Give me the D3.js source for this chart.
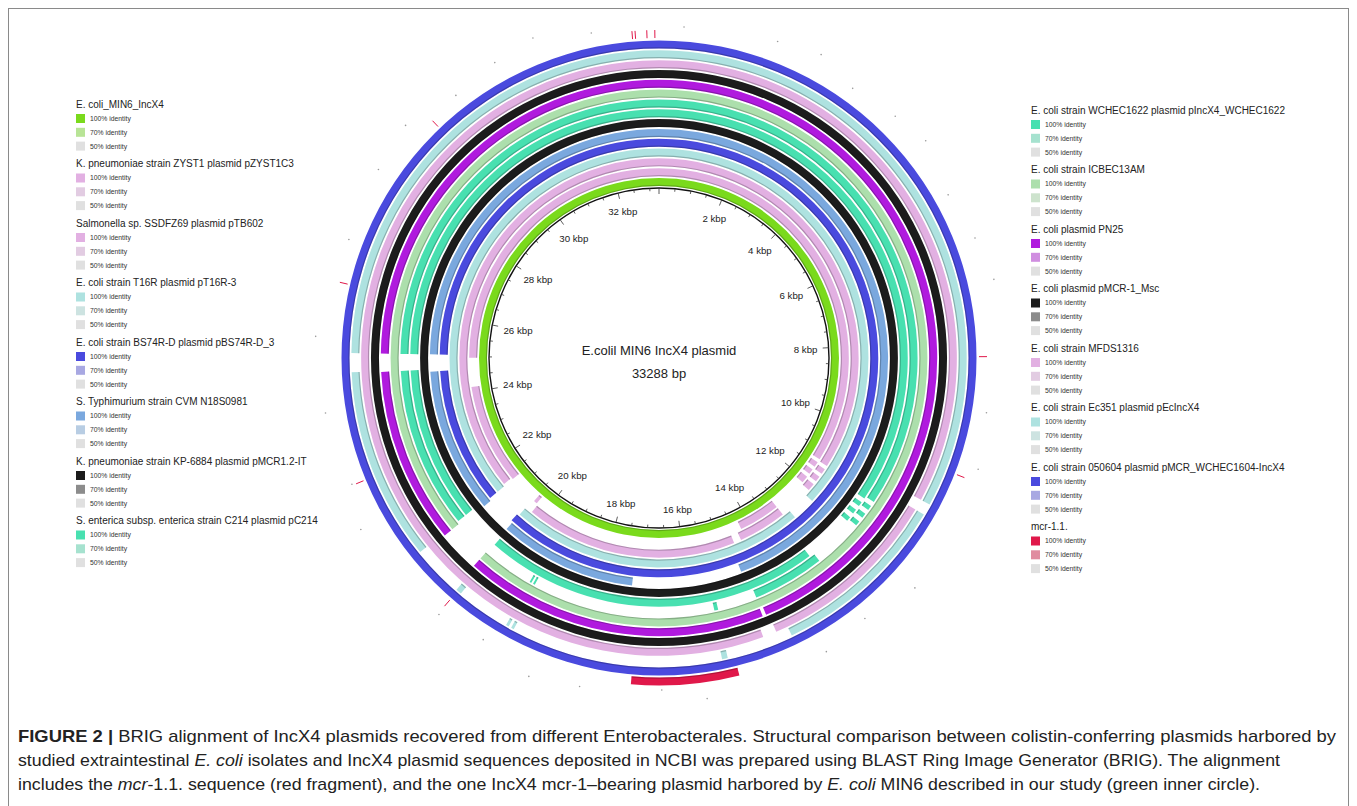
<!DOCTYPE html>
<html>
<head>
<meta charset="utf-8">
<script src="https://cdn.jsdelivr.net/npm/d3@7"></script>
<style>
  body { margin: 0; background: #fff; }
  svg { display: block; }
</style>
</head>
<body>
<div id="chart"></div>
<script>
// plasmid backbone, bp
var genomeLength = 33288;
var tickKbp = [2, 4, 6, 8, 10, 12, 14, 16, 18, 20, 22, 24, 26, 28, 30, 32];

// rings, inner to outer (same order as legend)
var ringNames = [
  'E. coli_MIN6_IncX4',
  'K. pneumoniae strain ZYST1 plasmid pZYST1C3',
  'Salmonella sp. SSDFZ69 plasmid pTB602',
  'E. coli strain T16R plasmid pT16R-3',
  'E. coli strain BS74R-D plasmid pBS74R-D_3',
  'S. Typhimurium strain CVM N18S0981',
  'K. pneumoniae strain KP-6884 plasmid pMCR1.2-IT',
  'S. enterica subsp. enterica strain C214 plasmid pC214',
  'E. coli strain WCHEC1622 plasmid pIncX4_WCHEC1622',
  'E. coli strain ICBEC13AM',
  'E. coli plasmid PN25',
  'E. coli plasmid pMCR-1_Msc',
  'E. coli strain MFDS1316',
  'E. coli strain Ec351 plasmid pEcIncX4',
  'E. coli strain 050604 plasmid pMCR_WCHEC1604-IncX4',
  'mcr-1.1.'
];
var color100 = ['#7ada1c', '#e2b0e2', '#e2b0e2', '#aee2e0', '#4a4ade', '#7aa8de', '#1c1c1c', '#48e0b0',
                '#48e0b0', '#acdfac', '#b01ade', '#1c1c1c', '#e2b0e2', '#aee2e0', '#4a4ade', '#e0184a'];
var color70 = ['#b8e496', '#e2cce2', '#e2cce2', '#cde3e1', '#a8a8e2', '#b8cde3', '#8c8c8c', '#a6e2cf',
               '#a6e2cf', '#cde3cd', '#d08ee0', '#8c8c8c', '#e2cce2', '#cde3e1', '#a8a8e2', '#e08ca0'];
var color50 = '#e0e0e0';

// aligned blocks per ring, kbp [start, end]
var ringBlocks = [
  [[0, 33.288]],
  [[0, 11.3], [11.4, 11.55], [11.65, 11.8], [11.9, 12.1], [13.1, 14.27], [20.35, 20.45], [21.3, 24.15], [24.97, 33.288]],
  [[0, 11.35], [11.45, 11.6], [11.7, 11.85], [11.95, 12.15], [13.1, 14.4], [14.6, 20.3], [21.35, 33.288]],
  [[0, 12.3], [12.9, 20.5], [21.3, 33.288]],
  [[0, 20.55], [21.3, 24.65], [25.05, 33.288]],
  [[0, 14.7], [17.27, 20.5], [21.24, 24.65], [25.05, 33.288]],
  [[0, 33.288]],
  [[0, 11.5], [11.6, 11.7], [11.8, 11.9], [12.0, 12.1], [13.2, 20.47], [21.35, 24.7], [25.05, 33.288]],
  [[0, 11.45], [11.55, 11.65], [11.75, 11.85], [11.95, 12.05], [13.1, 14.6], [15.42, 15.5], [19.3, 19.34],
   [19.38, 19.42], [21.35, 24.7], [25.05, 33.288]],
  [[0, 20.5], [21.3, 33.288]],
  [[0, 14.55], [14.62, 20.5], [21.3, 24.7], [25.05, 33.288]],
  [[0, 33.288]],
  [[0, 10.95], [11.15, 14.5], [14.75, 33.288]],
  [[0, 10.95], [11.15, 14.28], [15.45, 15.55], [19.25, 19.3], [19.35, 19.4], [20.35, 20.45], [21.35, 24.72], [25.05, 33.288]],
  [[0, 33.288]],
  [[15.33, 17.1]]
];
// short mcr-1.1 hits and faint hits outside the rings, kbp
var mcrTicks = [32.85, 32.9, 33.09, 33.22, 29.25, 26.2, 22.88, 20.42, 10.3, 8.3];
var faintHits = [0.4, 1.9, 2.6, 3.3, 4.1, 4.7, 5.6, 6.4, 7.1, 9.2, 10.1, 12.2, 13.1, 13.9, 15.9, 16.6, 17.9,
                 18.7, 19.6, 20.4, 22.2, 22.9, 24.1, 25.3, 26.9, 28.1, 28.9, 29.8, 30.6, 31.3, 32.2];

var W = 1357, H = 806;
var cx = 659, cy = 358;
var svg = d3.select('#chart').append('svg')
  .attr('width', W)
  .attr('height', H)
  .style('font-family', 'Arial, "Liberation Sans", sans-serif');

svg.append('rect')
  .attr('x', 8.5).attr('y', 8.5)
  .attr('width', 1340).attr('height', 820)
  .attr('fill', 'none')
  .attr('stroke', '#8a8a8a')
  .attr('stroke-width', 1);

var angle = d3.scaleLinear().domain([0, genomeLength / 1000]).range([0, 2 * Math.PI]);
var ringInner = d3.scaleLinear().domain([0, 14]).range([172, 309.5]);
var ringWidth = 8;

var plot = svg.append('g').attr('transform', 'translate(' + cx + ',' + cy + ')');
var arc = d3.arc();

ringBlocks.forEach(function(blocks, i) {
  var r0 = i < 15 ? ringInner(i) : 319.5;
  var g = plot.append('g').attr('class', 'ring');
  g.selectAll('path.block')
    .data(blocks)
    .enter().append('path')
    .attr('class', 'block')
    .attr('d', function(d) {
      return arc({innerRadius: r0, outerRadius: r0 + ringWidth, startAngle: angle(d[0]), endAngle: angle(d[1])});
    })
    .attr('fill', color100[i]);
  // thin grey edge that BRIG draws on the inside of each block
  g.selectAll('path.edge')
    .data(blocks)
    .enter().append('path')
    .attr('class', 'edge')
    .attr('d', function(d) {
      return arc({innerRadius: r0, outerRadius: r0 + 1.2, startAngle: angle(d[0]), endAngle: angle(d[1])});
    })
    .attr('fill', '#000')
    .attr('opacity', 0.22);
});

// red mcr-1.1 hits
plot.selectAll('line.mcr')
  .data(mcrTicks)
  .enter().append('line')
  .attr('x1', function(d) { return 320 * Math.sin(angle(d)); })
  .attr('y1', function(d) { return -320 * Math.cos(angle(d)); })
  .attr('x2', function(d) { return 328 * Math.sin(angle(d)); })
  .attr('y2', function(d) { return -328 * Math.cos(angle(d)); })
  .attr('stroke', '#e0184a')
  .attr('stroke-width', 1);

plot.selectAll('circle.faint')
  .data(faintHits)
  .enter().append('circle')
  .attr('cx', function(d, i) { return (332 + (i % 3) * 6) * Math.sin(angle(d)); })
  .attr('cy', function(d, i) { return -(332 + (i % 3) * 6) * Math.cos(angle(d)); })
  .attr('r', 0.8)
  .attr('fill', '#9a9a9a');

// backbone circle with ticks
plot.append('circle')
  .attr('r', 170)
  .attr('fill', 'none')
  .attr('stroke', '#111')
  .attr('stroke-width', 1.4);

var minor = d3.range(0, genomeLength / 1000, 0.5);
plot.selectAll('line.tick')
  .data(minor)
  .enter().append('line')
  .attr('x1', function(d) { return 170 * Math.sin(angle(d)); })
  .attr('y1', function(d) { return -170 * Math.cos(angle(d)); })
  .attr('x2', function(d) { var r = d % 2 === 0 ? 164 : 167; return r * Math.sin(angle(d)); })
  .attr('y2', function(d) { var r = d % 2 === 0 ? 164 : 167; return -r * Math.cos(angle(d)); })
  .attr('stroke', '#333')
  .attr('stroke-width', 0.8);

plot.selectAll('text.tick')
  .data(tickKbp)
  .enter().append('text')
  .attr('class', 'tick')
  .attr('font-size', 9.7)
  .attr('text-anchor', 'middle')
  .attr('dominant-baseline', 'central')
  .attr('fill', '#222')
  .text(function(d) { return d + ' kbp'; })
  .each(function(d) {
    var a = angle(d);
    var w = this.getComputedTextLength(), h = 10;
    var r = 159 - (w / 2 * Math.abs(Math.sin(a)) + h / 2 * Math.abs(Math.cos(a)));
    d3.select(this).attr('x', r * Math.sin(a)).attr('y', -r * Math.cos(a));
  });

plot.append('text')
  .attr('y', -3)
  .attr('text-anchor', 'middle')
  .attr('font-size', 13)
  .attr('fill', '#222')
  .text('E.colil MIN6 IncX4 plasmid');
plot.append('text')
  .attr('y', 20)
  .attr('text-anchor', 'middle')
  .attr('font-size', 13)
  .attr('fill', '#222')
  .text(genomeLength + ' bp');

// legends
function legend(x, y0, names, offset) {
  var g = svg.append('g');
  names.forEach(function(name, k) {
    var i = k + offset;
    var y = y0 + k * 59.5;
    g.append('text').attr('x', x).attr('y', y + 3.5).attr('font-size', 10).attr('fill', '#222').text(name);
    [[color100[i], '100% identity'], [color70[i], '70% identity'], [color50, '50% identity']].forEach(function(row, j) {
      var yy = y + 14.5 + j * 13.8;
      g.append('rect').attr('x', x).attr('y', yy - 4.5).attr('width', 9).attr('height', 9).attr('fill', row[0]);
      g.append('text').attr('x', x + 14).attr('y', yy + 2.4).attr('font-size', 6.8).attr('fill', '#333').text(row[1]);
    });
  });
}
legend(76, 104, ringNames.slice(0, 8), 0);
legend(1031, 110, ringNames.slice(8), 8);

// caption
var cap = svg.append('g').attr('font-family', '"Liberation Sans Narrow", "Arial Narrow", Arial, sans-serif')
  .attr('font-size', 17).attr('fill', '#222');
var l1 = cap.append('text').attr('x', 18).attr('y', 742).attr('textLength', 1318).attr('lengthAdjust', 'spacingAndGlyphs');
l1.append('tspan').attr('font-weight', 'bold').text('FIGURE 2 | ');
l1.append('tspan').text('BRIG alignment of IncX4 plasmids recovered from different Enterobacterales. Structural comparison between colistin-conferring plasmids harbored by');
var l2 = cap.append('text').attr('x', 18).attr('y', 766).attr('textLength', 1262).attr('lengthAdjust', 'spacingAndGlyphs');
l2.append('tspan').text('studied extraintestinal ');
l2.append('tspan').attr('font-style', 'italic').text('E. coli');
l2.append('tspan').text(' isolates and IncX4 plasmid sequences deposited in NCBI was prepared using BLAST Ring Image Generator (BRIG). The alignment');
var l3 = cap.append('text').attr('x', 18).attr('y', 790).attr('textLength', 1242).attr('lengthAdjust', 'spacingAndGlyphs');
l3.append('tspan').text('includes the ');
l3.append('tspan').attr('font-style', 'italic').text('mcr');
l3.append('tspan').text('-1.1. sequence (red fragment), and the one IncX4 mcr-1\u2013bearing plasmid harbored by ');
l3.append('tspan').attr('font-style', 'italic').text('E. coli');
l3.append('tspan').text(' MIN6 described in our study (green inner circle).');
</script>
</body>
</html>
